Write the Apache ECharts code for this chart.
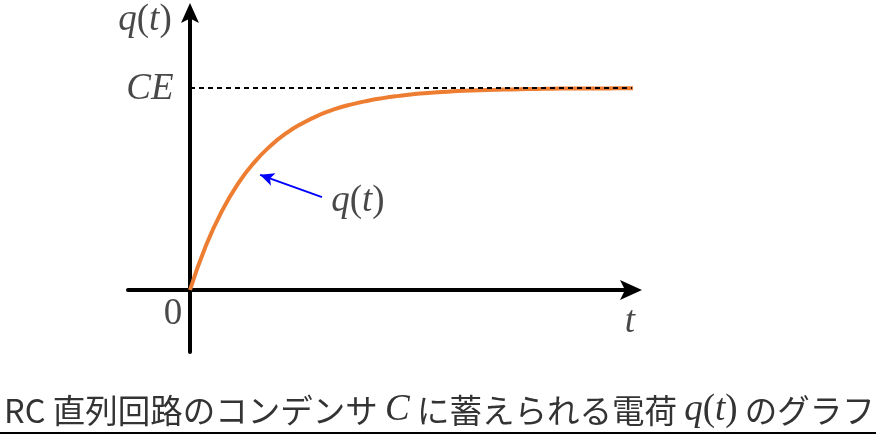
<!DOCTYPE html>
<html><head><meta charset="utf-8">
<script src="https://cdn.jsdelivr.net/npm/echarts@6/dist/echarts.min.js"></script>
<style>html,body{margin:0;padding:0;background:#fff}#c{width:876px;height:436px}</style>
</head><body><div id="c"></div>
<script>
// time in units of the time constant RC, charge in units of CE
const tValues = [0, 0.25, 0.5, 0.75, 1, 1.25, 1.5, 1.75, 2, 2.25, 2.5, 2.75, 3, 3.25, 3.5, 3.75, 4, 4.25, 4.5, 4.75, 5, 5.25, 5.5, 5.75, 6, 6.25, 6.5, 6.75, 7];
const qValues = [0, 0.221, 0.393, 0.528, 0.632, 0.713, 0.777, 0.826, 0.865, 0.895, 0.918, 0.936, 0.950, 0.961, 0.970, 0.976, 0.982, 0.986, 0.989, 0.991, 0.993, 0.995, 0.996, 0.997, 0.998, 0.998, 0.998, 0.999, 0.999];
const ceLevel = [1];
const tRange = [0, 7];
const labelTexts = ['0', 't', 'q(t)', 'CE'];
const titleText = ['RC 直列回路のコンデンサ ', 'C', ' に蓄えられる電荷 ', 'q(t)', ' のグラフ'];

function math(s) {
  return s.split('').map(function (ch) {
    if (/[A-Za-z]/.test(ch)) return '{i|' + ch + '}';
    return '{r|' + ch + '}';
  }).join('');
}
const MS = 37;
const mathRich = {
  i: {fontFamily: 'Liberation Serif', fontStyle: 'italic', fontWeight: 'normal', fontSize: MS, color: '#1a1a1a'},
  r: {fontFamily: 'Liberation Serif', fontWeight: 'normal', fontSize: MS, color: '#1a1a1a'}
};

const chart = echarts.init(document.getElementById('c'), null, {renderer: 'canvas'});
const arrowPath = 'path://M10 0 L20 22 L10 17 L0 22 Z';

function lbl(pos, txt) {
  return {value: pos, label: {show: true, position: 'inside', formatter: math(txt), rich: mathRich}};
}

chart.setOption({
  animation: false,
  backgroundColor: '#fff',
  title: {
    left: -1, top: 387,
    text: '{j|' + titleText[0] + '}' + math(titleText[1]) + '{j|' + titleText[2] + '}' + math(titleText[3]) + '{j|' + titleText[4] + '}',
    textStyle: {
      fontWeight: 'normal',
      rich: {
        j: {fontFamily: 'Noto Sans CJK JP', fontWeight: 'normal', fontSize: 32.5, color: '#333'},
        i: {fontFamily: 'Liberation Serif', fontStyle: 'italic', fontWeight: 'normal', fontSize: 37, color: '#333'},
        r: {fontFamily: 'Liberation Serif', fontWeight: 'normal', fontSize: 37, color: '#333'}
      }
    }
  },
  graphic: [{
    type: 'line', shape: {x1: 0, y1: 433, x2: 876, y2: 433},
    style: {stroke: '#000', lineWidth: 2}
  }],
  grid: {left: 128, width: 503, top: 13, height: 339},
  xAxis: {
    type: 'value', min: -0.9644, max: 6.86,
    axisLine: {onZero: true, lineStyle: {color: '#000', width: 4}, symbol: ['none', arrowPath], symbolSize: [20, 22]},
    axisTick: {show: false}, axisLabel: {show: false}, splitLine: {show: false}
  },
  yAxis: {
    type: 'value', min: -0.3069, max: 1.3713,
    axisLine: {onZero: true, lineStyle: {color: '#000', width: 4}, symbol: ['none', arrowPath], symbolSize: [18, 22]},
    axisTick: {show: false}, axisLabel: {show: false}, splitLine: {show: false}
  },
  series: [
    {
      type: 'line', name: 'q(t)', clip: false, smooth: true,
      showSymbol: false, symbol: 'none',
      data: tValues.map(function (t, k) { return [t, qValues[k]]; }),
      lineStyle: {color: '#ED7D31', width: 4}, z: 3,
      markLine: {
        silent: true, symbol: ['none', 'arrow'], symbolSize: [10, 14],
        lineStyle: {color: '#0000FF', width: 2, type: 'solid'},
        label: {show: false},
        data: [[{coord: [2.053, 0.460]}, {coord: [1.09, 0.570]}]]
      }
    },
    {
      type: 'line', name: 'CE', clip: false, showSymbol: false, symbol: 'none',
      data: [[tRange[0], ceLevel[0]], [tRange[1], ceLevel[0]]],
      lineStyle: {color: '#000', width: 2, type: [5, 4]}, z: 4
    },
    {
      type: 'scatter', symbolSize: 1, itemStyle: {color: 'rgba(0,0,0,0)'}, z: 5, clip: false,
      data: [
        lbl([-0.264, -0.120], labelTexts[0]),
        lbl([6.844, -0.160], labelTexts[1]),
        lbl([-0.70, 1.337], labelTexts[2]),
        lbl([-0.622, 0.995], labelTexts[3]),
        lbl([2.613, 0.441], 'q(t)')
      ]
    }
  ]
});
</script></body></html>
